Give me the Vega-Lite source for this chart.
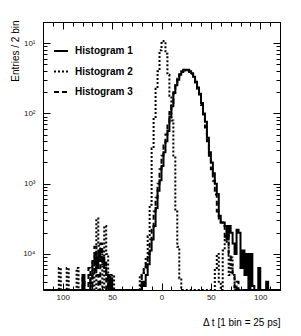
{
  "$schema": "https://vega.github.io/schema/vega-lite/v6.json",
  "width": 237,
  "height": 268,
  "autosize": {"type": "none"},
  "padding": {"left": 43, "top": 22, "right": 21, "bottom": 46},
  "background": "white",
  "config": {
    "view": {"stroke": null},
    "font": "Liberation Sans",
    "axis": {"grid": false, "domainColor": "black", "domainWidth": 1, "tickColor": "black", "tickWidth": 1, "labelFont": "Liberation Sans", "labelColor": "#222", "labelFontSize": 8, "titleFont": "Liberation Sans", "titleFontWeight": "normal", "titleFontSize": 10, "titleColor": "black", "labelOverlap": false, "labelFlush": false}
  },
  "data": {"values": [
    {"series": "Histogram 1", "t": -120, "entries": 0},
    {"series": "Histogram 1", "t": -80, "entries": 0.00005},
    {"series": "Histogram 1", "t": -78, "entries": 0},
    {"series": "Histogram 1", "t": -72, "entries": 0.000045},
    {"series": "Histogram 1", "t": -70, "entries": 0.000079},
    {"series": "Histogram 1", "t": -68, "entries": 0.000089},
    {"series": "Histogram 1", "t": -66, "entries": 0.000063},
    {"series": "Histogram 1", "t": -64, "entries": 0.000112},
    {"series": "Histogram 1", "t": -62, "entries": 0.000079},
    {"series": "Histogram 1", "t": -60, "entries": 0.000089},
    {"series": "Histogram 1", "t": -58, "entries": 0.000063},
    {"series": "Histogram 1", "t": -56, "entries": 0.00005},
    {"series": "Histogram 1", "t": -54, "entries": 0},
    {"series": "Histogram 1", "t": -52, "entries": 0.000045},
    {"series": "Histogram 1", "t": -50, "entries": 0},
    {"series": "Histogram 1", "t": -20, "entries": 0.00004},
    {"series": "Histogram 1", "t": -18, "entries": 0.000035},
    {"series": "Histogram 1", "t": -16, "entries": 0.00005},
    {"series": "Histogram 1", "t": -14, "entries": 0.000071},
    {"series": "Histogram 1", "t": -12, "entries": 0.000112},
    {"series": "Histogram 1", "t": -10, "entries": 0.00016},
    {"series": "Histogram 1", "t": -8, "entries": 0.00025},
    {"series": "Histogram 1", "t": -6, "entries": 0.00045},
    {"series": "Histogram 1", "t": -4, "entries": 0.00079},
    {"series": "Histogram 1", "t": -2, "entries": 0.00112},
    {"series": "Histogram 1", "t": 0, "entries": 0.00178},
    {"series": "Histogram 1", "t": 2, "entries": 0.0028},
    {"series": "Histogram 1", "t": 4, "entries": 0.004},
    {"series": "Histogram 1", "t": 6, "entries": 0.0056},
    {"series": "Histogram 1", "t": 8, "entries": 0.0089},
    {"series": "Histogram 1", "t": 10, "entries": 0.0126},
    {"series": "Histogram 1", "t": 12, "entries": 0.02},
    {"series": "Histogram 1", "t": 14, "entries": 0.0251},
    {"series": "Histogram 1", "t": 16, "entries": 0.0302},
    {"series": "Histogram 1", "t": 18, "entries": 0.0355},
    {"series": "Histogram 1", "t": 20, "entries": 0.0389},
    {"series": "Histogram 1", "t": 22, "entries": 0.0407},
    {"series": "Histogram 1", "t": 24, "entries": 0.0417},
    {"series": "Histogram 1", "t": 26, "entries": 0.0417},
    {"series": "Histogram 1", "t": 28, "entries": 0.0398},
    {"series": "Histogram 1", "t": 30, "entries": 0.0372},
    {"series": "Histogram 1", "t": 32, "entries": 0.0331},
    {"series": "Histogram 1", "t": 34, "entries": 0.0282},
    {"series": "Histogram 1", "t": 36, "entries": 0.0234},
    {"series": "Histogram 1", "t": 38, "entries": 0.0191},
    {"series": "Histogram 1", "t": 40, "entries": 0.0141},
    {"series": "Histogram 1", "t": 42, "entries": 0.01},
    {"series": "Histogram 1", "t": 44, "entries": 0.0076},
    {"series": "Histogram 1", "t": 46, "entries": 0.0045},
    {"series": "Histogram 1", "t": 48, "entries": 0.0028},
    {"series": "Histogram 1", "t": 50, "entries": 0.002},
    {"series": "Histogram 1", "t": 52, "entries": 0.00141},
    {"series": "Histogram 1", "t": 54, "entries": 0.001},
    {"series": "Histogram 1", "t": 56, "entries": 0.00071},
    {"series": "Histogram 1", "t": 58, "entries": 0.00032},
    {"series": "Histogram 1", "t": 60, "entries": 0.00028},
    {"series": "Histogram 1", "t": 62, "entries": 0.00028},
    {"series": "Histogram 1", "t": 64, "entries": 0.00025},
    {"series": "Histogram 1", "t": 66, "entries": 0.00016},
    {"series": "Histogram 1", "t": 68, "entries": 0.00025},
    {"series": "Histogram 1", "t": 70, "entries": 0.0002},
    {"series": "Histogram 1", "t": 72, "entries": 0.00014},
    {"series": "Histogram 1", "t": 74, "entries": 0.0001},
    {"series": "Histogram 1", "t": 76, "entries": 0.00022},
    {"series": "Histogram 1", "t": 78, "entries": 0.0002},
    {"series": "Histogram 1", "t": 80, "entries": 0.000063},
    {"series": "Histogram 1", "t": 82, "entries": 0.000112},
    {"series": "Histogram 1", "t": 84, "entries": 0.00005},
    {"series": "Histogram 1", "t": 86, "entries": 0.0001},
    {"series": "Histogram 1", "t": 88, "entries": 0},
    {"series": "Histogram 1", "t": 90, "entries": 0.0001},
    {"series": "Histogram 1", "t": 92, "entries": 0.000035},
    {"series": "Histogram 1", "t": 94, "entries": 0},
    {"series": "Histogram 1", "t": 98, "entries": 0.000063},
    {"series": "Histogram 1", "t": 100, "entries": 0},
    {"series": "Histogram 1", "t": 106, "entries": 0.00004},
    {"series": "Histogram 1", "t": 108, "entries": 0},
    {"series": "Histogram 1", "t": 120, "entries": 0},

    {"series": "Histogram 2", "t": -120, "entries": 0},
    {"series": "Histogram 2", "t": -104, "entries": 0.000063},
    {"series": "Histogram 2", "t": -102, "entries": 0},
    {"series": "Histogram 2", "t": -96, "entries": 0.000063},
    {"series": "Histogram 2", "t": -94, "entries": 0},
    {"series": "Histogram 2", "t": -86, "entries": 0.000063},
    {"series": "Histogram 2", "t": -84, "entries": 0},
    {"series": "Histogram 2", "t": -70, "entries": 0.000079},
    {"series": "Histogram 2", "t": -68, "entries": 0},
    {"series": "Histogram 2", "t": -66, "entries": 0.00032},
    {"series": "Histogram 2", "t": -64, "entries": 0.00013},
    {"series": "Histogram 2", "t": -62, "entries": 0.00011},
    {"series": "Histogram 2", "t": -60, "entries": 0},
    {"series": "Histogram 2", "t": -58, "entries": 0.00025},
    {"series": "Histogram 2", "t": -56, "entries": 0.0001},
    {"series": "Histogram 2", "t": -54, "entries": 0.00005},
    {"series": "Histogram 2", "t": -52, "entries": 0},
    {"series": "Histogram 2", "t": -50, "entries": 0.00005},
    {"series": "Histogram 2", "t": -48, "entries": 0},
    {"series": "Histogram 2", "t": -22, "entries": 0.00005},
    {"series": "Histogram 2", "t": -20, "entries": 0.00005},
    {"series": "Histogram 2", "t": -18, "entries": 0.000063},
    {"series": "Histogram 2", "t": -16, "entries": 0.000089},
    {"series": "Histogram 2", "t": -14, "entries": 0.000178},
    {"series": "Histogram 2", "t": -12, "entries": 0.0005},
    {"series": "Histogram 2", "t": -10, "entries": 0.00316},
    {"series": "Histogram 2", "t": -8, "entries": 0.0089},
    {"series": "Histogram 2", "t": -6, "entries": 0.0224},
    {"series": "Histogram 2", "t": -4, "entries": 0.0398},
    {"series": "Histogram 2", "t": -2, "entries": 0.0794},
    {"series": "Histogram 2", "t": 0, "entries": 0.107},
    {"series": "Histogram 2", "t": 2, "entries": 0.1},
    {"series": "Histogram 2", "t": 4, "entries": 0.0708},
    {"series": "Histogram 2", "t": 6, "entries": 0.0355},
    {"series": "Histogram 2", "t": 8, "entries": 0.0178},
    {"series": "Histogram 2", "t": 10, "entries": 0.00794},
    {"series": "Histogram 2", "t": 12, "entries": 0.00251},
    {"series": "Histogram 2", "t": 14, "entries": 0.0004},
    {"series": "Histogram 2", "t": 16, "entries": 0.000126},
    {"series": "Histogram 2", "t": 18, "entries": 0.000045},
    {"series": "Histogram 2", "t": 20, "entries": 0},
    {"series": "Histogram 2", "t": 54, "entries": 0.000063},
    {"series": "Histogram 2", "t": 56, "entries": 0.0001},
    {"series": "Histogram 2", "t": 58, "entries": 0.00004},
    {"series": "Histogram 2", "t": 60, "entries": 0},
    {"series": "Histogram 2", "t": 62, "entries": 0.000112},
    {"series": "Histogram 2", "t": 64, "entries": 0.000158},
    {"series": "Histogram 2", "t": 66, "entries": 0.00014},
    {"series": "Histogram 2", "t": 68, "entries": 0.00005},
    {"series": "Histogram 2", "t": 70, "entries": 0.000089},
    {"series": "Histogram 2", "t": 72, "entries": 0.00005},
    {"series": "Histogram 2", "t": 74, "entries": 0},
    {"series": "Histogram 2", "t": 120, "entries": 0},

    {"series": "Histogram 3", "t": -120, "entries": 0},
    {"series": "Histogram 3", "t": -80, "entries": 0.000045},
    {"series": "Histogram 3", "t": -78, "entries": 0},
    {"series": "Histogram 3", "t": -74, "entries": 0.000063},
    {"series": "Histogram 3", "t": -72, "entries": 0},
    {"series": "Histogram 3", "t": -70, "entries": 0.00005},
    {"series": "Histogram 3", "t": -68, "entries": 0.000126},
    {"series": "Histogram 3", "t": -66, "entries": 0.00005},
    {"series": "Histogram 3", "t": -64, "entries": 0},
    {"series": "Histogram 3", "t": -62, "entries": 0.00014},
    {"series": "Histogram 3", "t": -60, "entries": 0.000071},
    {"series": "Histogram 3", "t": -58, "entries": 0.000079},
    {"series": "Histogram 3", "t": -56, "entries": 0},
    {"series": "Histogram 3", "t": -54, "entries": 0.00005},
    {"series": "Histogram 3", "t": -52, "entries": 0},
    {"series": "Histogram 3", "t": -22, "entries": 0.000035},
    {"series": "Histogram 3", "t": -20, "entries": 0.00005},
    {"series": "Histogram 3", "t": -18, "entries": 0.000063},
    {"series": "Histogram 3", "t": -16, "entries": 0.000071},
    {"series": "Histogram 3", "t": -14, "entries": 0.0001},
    {"series": "Histogram 3", "t": -12, "entries": 0.00016},
    {"series": "Histogram 3", "t": -10, "entries": 0.00022},
    {"series": "Histogram 3", "t": -8, "entries": 0.0004},
    {"series": "Histogram 3", "t": -6, "entries": 0.00063},
    {"series": "Histogram 3", "t": -4, "entries": 0.001},
    {"series": "Histogram 3", "t": -2, "entries": 0.0016},
    {"series": "Histogram 3", "t": 0, "entries": 0.0025},
    {"series": "Histogram 3", "t": 2, "entries": 0.0035},
    {"series": "Histogram 3", "t": 4, "entries": 0.005},
    {"series": "Histogram 3", "t": 6, "entries": 0.0071},
    {"series": "Histogram 3", "t": 8, "entries": 0.0105},
    {"series": "Histogram 3", "t": 10, "entries": 0.0141},
    {"series": "Histogram 3", "t": 12, "entries": 0.0195},
    {"series": "Histogram 3", "t": 14, "entries": 0.025},
    {"series": "Histogram 3", "t": 16, "entries": 0.031},
    {"series": "Histogram 3", "t": 18, "entries": 0.036},
    {"series": "Histogram 3", "t": 20, "entries": 0.0398},
    {"series": "Histogram 3", "t": 22, "entries": 0.0417},
    {"series": "Histogram 3", "t": 24, "entries": 0.0417},
    {"series": "Histogram 3", "t": 26, "entries": 0.041},
    {"series": "Histogram 3", "t": 28, "entries": 0.0389},
    {"series": "Histogram 3", "t": 30, "entries": 0.0363},
    {"series": "Histogram 3", "t": 32, "entries": 0.0324},
    {"series": "Histogram 3", "t": 34, "entries": 0.0275},
    {"series": "Histogram 3", "t": 36, "entries": 0.0224},
    {"series": "Histogram 3", "t": 38, "entries": 0.0178},
    {"series": "Histogram 3", "t": 40, "entries": 0.0132},
    {"series": "Histogram 3", "t": 42, "entries": 0.0091},
    {"series": "Histogram 3", "t": 44, "entries": 0.0063},
    {"series": "Histogram 3", "t": 46, "entries": 0.004},
    {"series": "Histogram 3", "t": 48, "entries": 0.0025},
    {"series": "Histogram 3", "t": 50, "entries": 0.0016},
    {"series": "Histogram 3", "t": 52, "entries": 0.0011},
    {"series": "Histogram 3", "t": 54, "entries": 0.0007},
    {"series": "Histogram 3", "t": 56, "entries": 0.0004},
    {"series": "Histogram 3", "t": 58, "entries": 0.00035},
    {"series": "Histogram 3", "t": 60, "entries": 0.00028},
    {"series": "Histogram 3", "t": 62, "entries": 0.00025},
    {"series": "Histogram 3", "t": 64, "entries": 0.00016},
    {"series": "Histogram 3", "t": 66, "entries": 0.00022},
    {"series": "Histogram 3", "t": 68, "entries": 0.0001},
    {"series": "Histogram 3", "t": 70, "entries": 0.00007},
    {"series": "Histogram 3", "t": 72, "entries": 0.00005},
    {"series": "Histogram 3", "t": 74, "entries": 0},
    {"series": "Histogram 3", "t": 76, "entries": 0.00004},
    {"series": "Histogram 3", "t": 78, "entries": 0},
    {"series": "Histogram 3", "t": 120, "entries": 0}
  ]},
  "resolve": {"axis": {"x": "independent", "y": "independent"}},
  "layer": [
    {
      "transform": [{"filter": "datum.series == 'Histogram 1'"}],
      "mark": {"type": "line", "interpolate": "step-after", "strokeWidth": 2, "color": "black", "invalid": "show", "clip": true},
      "encoding": {
        "x": {"field": "t", "type": "quantitative", "scale": {"domain": [-120, 120], "nice": false, "zero": false},
          "axis": {"orient": "bottom", "values": [-120,-110,-100,-90,-80,-70,-60,-50,-40,-30,-20,-10,0,10,20,30,40,50,60,70,80,90,100,110,120],
            "tickSize": {"condition": {"test": "datum.value % 50 == 0", "value": -7}, "value": -4},
            "labelExpr": "datum.value % 50 == 0 ? format(abs(datum.value), 'd') : ''",
            "labelPadding": 10,
            "title": "Δ t [1 bin = 25 ps]", "titleAnchor": "end", "titleAlign": "right", "titleX": 237, "titleY": 35, "titleBaseline": "alphabetic"}},
        "y": {"field": "entries", "type": "quantitative", "scale": {"type": "log", "domain": [0.0000306, 0.2], "nice": false, "clamp": true},
          "axis": {"orient": "left", "values": [0.00004,0.00005,0.00006,0.00007,0.00008,0.00009,0.0001,0.0002,0.0003,0.0004,0.0005,0.0006,0.0007,0.0008,0.0009,0.001,0.002,0.003,0.004,0.005,0.006,0.007,0.008,0.009,0.01,0.02,0.03,0.04,0.05,0.06,0.07,0.08,0.09,0.1,0.2],
            "tickSize": {"condition": {"test": "datum.value == 0.1 || datum.value == 0.01 || datum.value == 0.001 || datum.value == 0.0001", "value": -7}, "value": -4},
            "labelExpr": "datum.value == 0.1 ? '10¹' : datum.value == 0.01 ? '10²' : datum.value == 0.001 ? '10³' : datum.value == 0.0001 ? '10⁴' : ''",
            "labelPadding": 15,
            "title": "Entries / 2 bin", "titleAnchor": "end", "titleAlign": "right", "titleX": -23, "titleY": -2, "titleAngle": -90, "titleBaseline": "bottom"}},
        "strokeDash": {"field": "series", "type": "nominal",
          "scale": {"domain": ["Histogram 1", "Histogram 2", "Histogram 3"], "range": [[1, 0], [2, 2], [5, 3]]},
          "legend": {"orient": "none", "legendX": 10, "legendY": 21, "title": null, "symbolType": "stroke", "symbolSize": 196, "symbolStrokeWidth": 2, "symbolStrokeColor": "black", "labelFont": "Liberation Sans", "labelFontSize": 10, "labelFontWeight": "bold", "labelColor": "black", "labelOffset": 6, "rowPadding": 7.5, "padding": 0}}
      }
    },
    {
      "transform": [{"filter": "datum.series == 'Histogram 2'"}],
      "mark": {"type": "line", "interpolate": "step-after", "strokeWidth": 2, "color": "black", "invalid": "show", "clip": true},
      "encoding": {
        "x": {"field": "t", "type": "quantitative",
          "axis": {"orient": "top", "values": [-120,-110,-100,-90,-80,-70,-60,-50,-40,-30,-20,-10,0,10,20,30,40,50,60,70,80,90,100,110,120],
            "tickSize": {"condition": {"test": "datum.value % 50 == 0", "value": -7}, "value": -4},
            "labels": false, "title": null}},
        "y": {"field": "entries", "type": "quantitative",
          "axis": {"orient": "right", "values": [0.00004,0.00005,0.00006,0.00007,0.00008,0.00009,0.0001,0.0002,0.0003,0.0004,0.0005,0.0006,0.0007,0.0008,0.0009,0.001,0.002,0.003,0.004,0.005,0.006,0.007,0.008,0.009,0.01,0.02,0.03,0.04,0.05,0.06,0.07,0.08,0.09,0.1,0.2],
            "tickSize": {"condition": {"test": "datum.value == 0.1 || datum.value == 0.01 || datum.value == 0.001 || datum.value == 0.0001", "value": -7}, "value": -4},
            "labels": false, "title": null}},
        "strokeDash": {"field": "series", "type": "nominal"}
      }
    },
    {
      "transform": [{"filter": "datum.series == 'Histogram 3'"}],
      "mark": {"type": "line", "interpolate": "step-after", "strokeWidth": 2, "color": "black", "invalid": "show", "clip": true},
      "encoding": {
        "x": {"field": "t", "type": "quantitative", "axis": null},
        "y": {"field": "entries", "type": "quantitative", "axis": null},
        "strokeDash": {"field": "series", "type": "nominal"}
      }
    }
  ]
}
